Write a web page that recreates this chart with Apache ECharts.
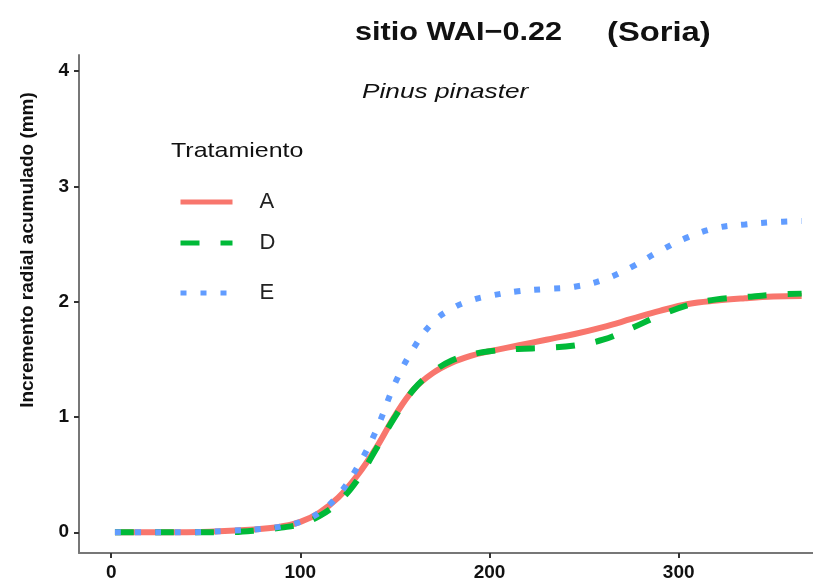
<!doctype html>
<html>
    <head>
        <meta charset="utf-8">
        <title>sitio WAI-0.22 (Soria)</title>
        <style>
            html, body { margin: 0; padding: 0; background: #fff; }
            #main { width: 813px; height: 579px; }
        </style>
    </head>
    <body>
        <div id="main"></div>
        <script src="https://cdn.jsdelivr.net/npm/echarts@6/dist/echarts.min.js"></script>
        <script>
            // day of year
            var days = [2, 20, 40, 60, 80, 90, 100, 110, 120, 130, 140, 150, 160, 170, 180,
                190, 200, 215, 230, 245, 260, 275, 290, 305, 320, 335, 350, 365];

            // cumulative radial increment (mm) per treatment
            var tratA = [0, 0, 0, 0.01, 0.03, 0.05, 0.09, 0.17, 0.30, 0.49, 0.73, 1.01, 1.24, 1.38, 1.47,
                1.53, 1.57, 1.62, 1.67, 1.72, 1.78, 1.85, 1.92, 1.98, 2.01, 2.03, 2.045, 2.05];
            var tratD = [0, 0, 0, 0, 0.02, 0.04, 0.07, 0.14, 0.26, 0.45, 0.72, 1.0, 1.24, 1.39, 1.49,
                1.54, 1.57, 1.59, 1.60, 1.62, 1.67, 1.77, 1.88, 1.97, 2.02, 2.04, 2.06, 2.07];
            var tratE = [0, 0, 0, 0.01, 0.03, 0.05, 0.09, 0.17, 0.32, 0.56, 0.88, 1.29, 1.60, 1.82, 1.94,
                2.01, 2.05, 2.09, 2.11, 2.13, 2.19, 2.30, 2.44, 2.56, 2.64, 2.67, 2.69, 2.70];

            var xTicks = [0, 100, 200, 300];
            var yTicks = [0, 1, 2, 3, 4];

            function pairs(ys) {
                return days.map(function (d, i) { return [d, ys[i]]; });
            }

            var chart = echarts.init(document.getElementById('main'));

            var tickFont = {
                fontFamily: 'Liberation Sans',
                fontWeight: 'bold',
                fontSize: 19,
                color: '#111'
            };

            // the reference text is a bit stretched sideways, hence scaleX
            function label(text, x, y, font, sx, rot) {
                return {
                    type: 'text',
                    x: x,
                    y: y,
                    scaleX: sx || 1,
                    rotation: rot || 0,
                    style: {
                        text: text,
                        font: font,
                        fill: '#111',
                        align: rot ? 'center' : 'left',
                        verticalAlign: 'middle'
                    }
                };
            }

            function legendAt(name, top) {
                return {
                    data: [name],
                    left: 178,
                    top: top,
                    padding: 0,
                    itemWidth: 52,
                    itemHeight: 14,
                    itemStyle: { opacity: 0 },
                    lineStyle: { width: 5 },
                    textStyle: {
                        fontFamily: 'Liberation Sans',
                        fontSize: 22,
                        color: '#222',
                        padding: [0, 0, 0, 22]
                    }
                };
            }

            chart.setOption({
                animation: false,
                graphic: [
                    label('sitio WAI\u22120.22', 355, 33, 'bold 26px "Liberation Sans"', 1.18),
                    label('(Soria)', 607, 33, 'bold 28px "Liberation Sans"', 1.17),
                    label('Pinus pinaster', 362, 92, 'italic 21px "Liberation Sans"', 1.25),
                    label('Tratamiento', 171, 151, '21px "Liberation Sans"', 1.19),
                    label('Incremento radial acumulado (mm)', 28, 250, 'bold 19px "Liberation Sans"', 1, Math.PI / 2)
                ],
                legend: [legendAt('A', 191), legendAt('D', 232), legendAt('E', 282)],
                grid: {
                    left: 79,
                    right: 0,
                    top: 55,
                    bottom: 26,
                    outerBoundsMode: 'none'
                },
                xAxis: {
                    type: 'value',
                    min: -17,
                    max: 371,
                    splitLine: { show: false },
                    axisLine: { onZero: false, lineStyle: { color: '#777', width: 2 } },
                    axisTick: { length: 5, lineStyle: { color: '#333', width: 2 }, customValues: xTicks },
                    axisLabel: Object.assign({ margin: 10, customValues: xTicks }, tickFont)
                },
                yAxis: {
                    type: 'value',
                    min: -0.18,
                    max: 4.14,
                    splitLine: { show: false },
                    axisLine: { show: true, onZero: false, lineStyle: { color: '#777', width: 2 } },
                    axisTick: { show: true, length: 5, lineStyle: { color: '#333', width: 2 }, customValues: yTicks },
                    axisLabel: Object.assign({ margin: 10, customValues: yTicks }, tickFont)
                },
                series: [{
                    name: 'A',
                    type: 'line',
                    data: pairs(tratA),
                    smooth: 0.4,
                    showSymbol: false,
                    symbol: 'none',
                    color: '#F8766D',
                    lineStyle: { width: 6, color: '#F8766D' }
                }, {
                    name: 'D',
                    type: 'line',
                    data: pairs(tratD),
                    smooth: 0.4,
                    showSymbol: false,
                    symbol: 'none',
                    color: '#00BA38',
                    lineStyle: { width: 6, color: '#00BA38', type: [19, 21] }
                }, {
                    name: 'E',
                    type: 'line',
                    data: pairs(tratE),
                    smooth: 0.4,
                    showSymbol: false,
                    symbol: 'none',
                    color: '#619CFF',
                    lineStyle: { width: 6, color: '#619CFF', type: [6, 14] }
                }]
            });

            window.addEventListener('resize', function () {
                chart.resize();
            });
        </script>
    </body>
</html>
